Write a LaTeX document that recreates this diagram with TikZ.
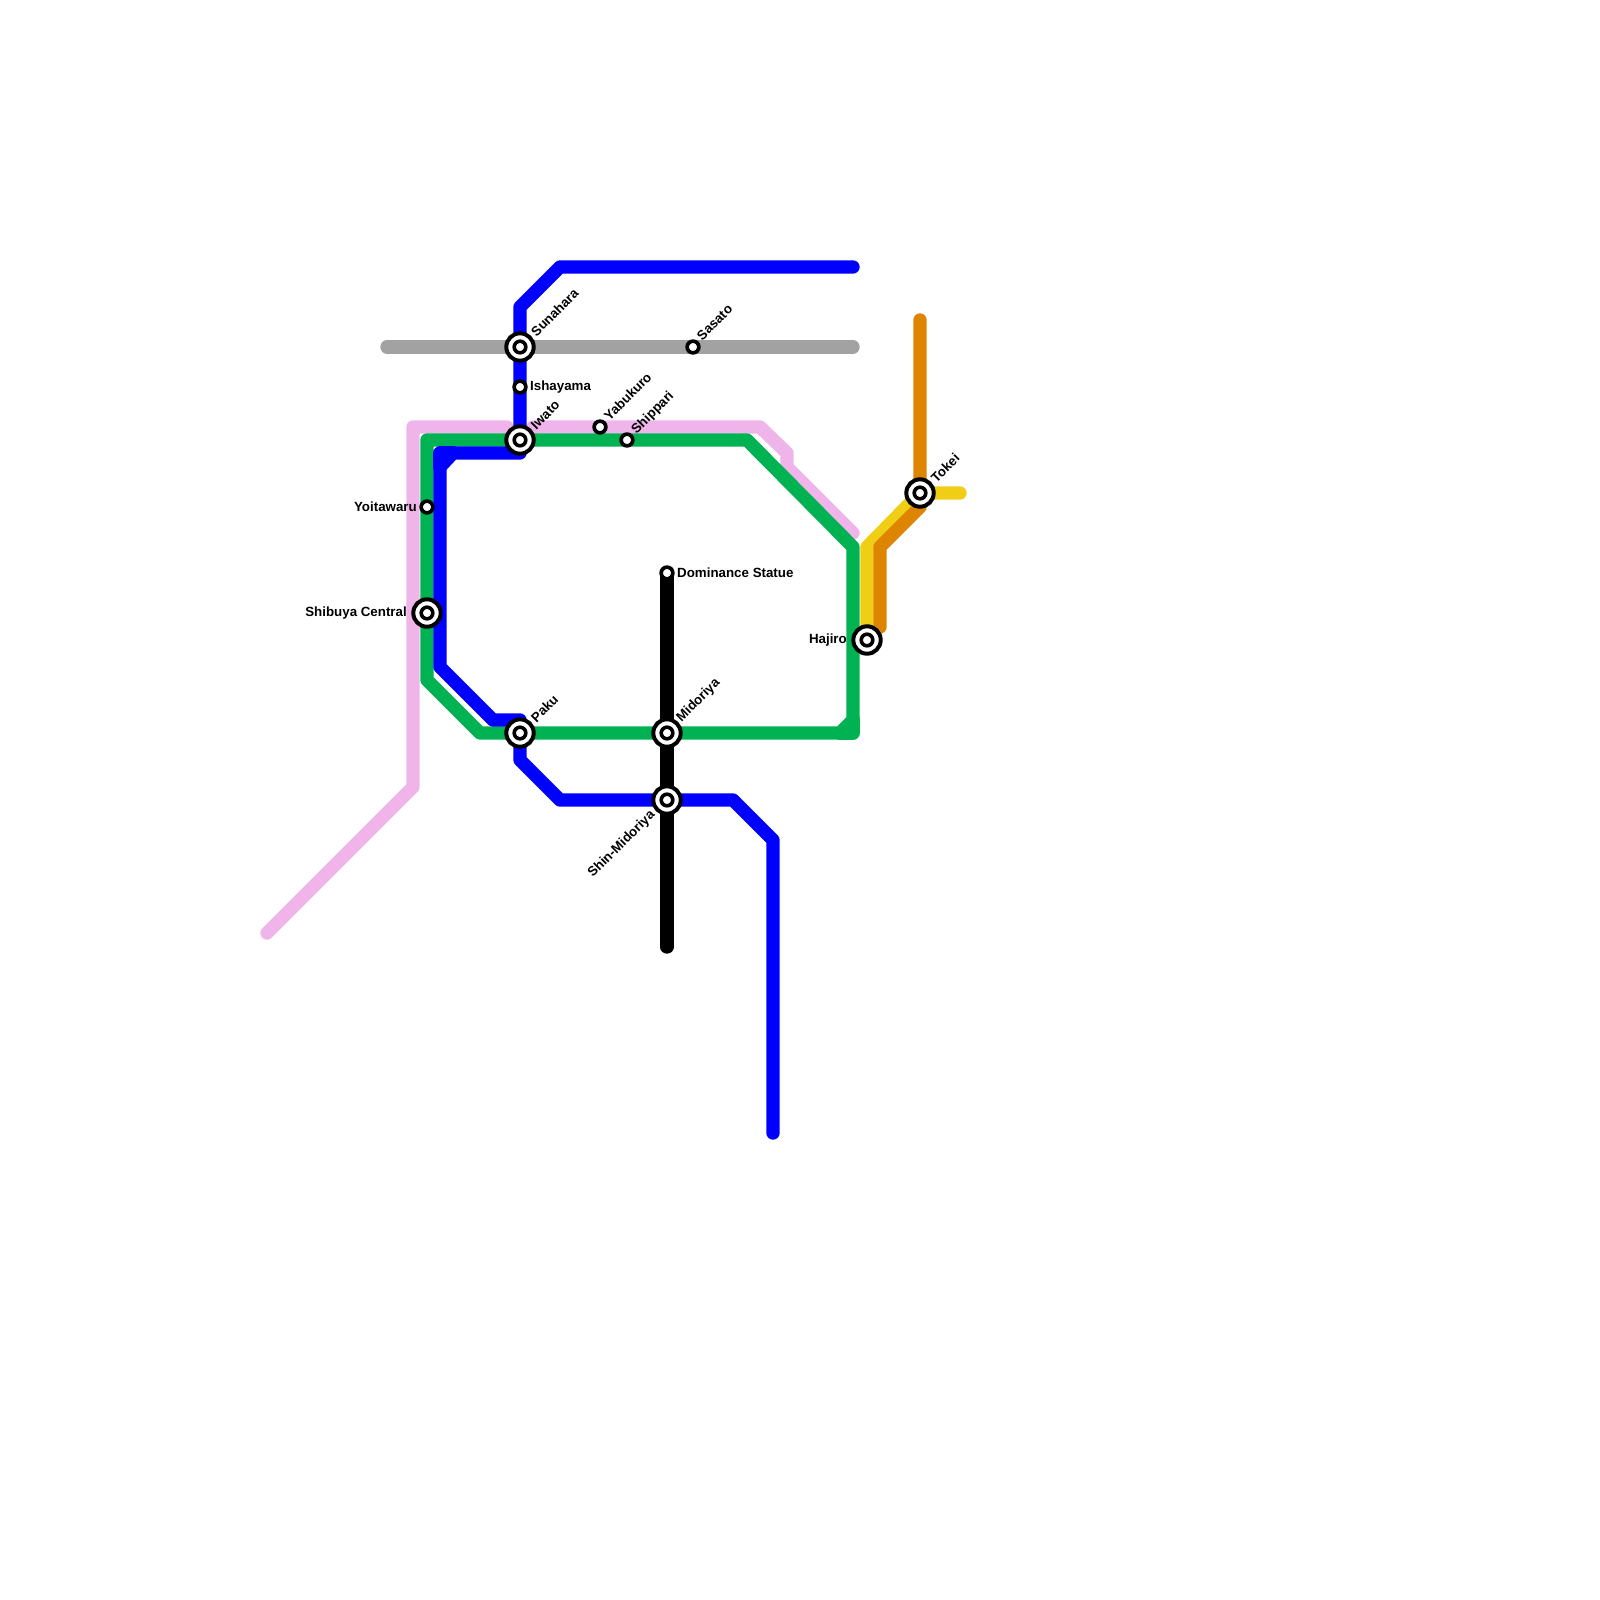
\documentclass[tikz,border=0pt]{standalone}
\usepackage{fontspec}
\setmainfont{Liberation Sans}
\usetikzlibrary{backgrounds}
\definecolor{MetroPink}{HTML}{EFB4EA}
\definecolor{MetroGreen}{HTML}{00B251}
\definecolor{MetroBlue}{HTML}{0000FF}
\definecolor{MetroGray}{HTML}{A2A2A2}
\definecolor{MetroYellow}{HTML}{F0CE15}
\definecolor{MetroOrange}{HTML}{DD8500}
\tikzset{
  metro/.style={line width=13.33pt,line cap=round,line join=round},
  pinkline/.style={metro,draw=MetroPink},
  greenline/.style={metro,draw=MetroGreen},
  blueline/.style={metro,draw=MetroBlue},
  grayline/.style={metro,draw=MetroGray},
  yellowline/.style={metro,draw=MetroYellow},
  orangeline/.style={metro,draw=MetroOrange},
  blackline/.style={metro,draw=black},
  smallstop/.style={
    circle,
    draw=black,
    fill=white,
    line width=3.7pt,
    minimum size=11.7pt,
    inner sep=0pt,
    outer sep=0pt
  },
  bigstop/.style={
    circle,
    draw=black,
    fill=white,
    line width=4pt,
    minimum size=27.4pt,
    inner sep=0pt,
    outer sep=0pt,
    path picture={\draw[black,line width=3.6pt] (path picture bounding box.center) circle (5.8pt);}
  },
  stoplabel/.style={font=\fontsize{13.33}{16}\selectfont\bfseries,inner sep=0pt},
  labelright/.style={stoplabel,anchor=west},
  labelleft/.style={stoplabel,anchor=east},
  labelne/.style={stoplabel,anchor=west,rotate=45},
  labelsw/.style={stoplabel,anchor=east,rotate=45}
}
\begin{document}
\begin{tikzpicture}[x=1pt,y=-1pt]
  \useasboundingbox (0,0) rectangle (1600,1600);

  \node[bigstop] (sunahara) at (520,347) {};
  \node[bigstop] (iwato) at (520,440) {};
  \node[bigstop] (paku) at (520,733) {};
  \node[bigstop] (midoriya) at (667,733) {};
  \node[bigstop] (shinmidoriya) at (667,800) {};
  \node[bigstop] (shibuya) at (427,613) {};
  \node[bigstop] (hajiro) at (867,640) {};
  \node[bigstop] (tokei) at (920,493) {};
  \node[smallstop] (ishayama) at (520,387) {};
  \node[smallstop] (yabukuro) at (600,427) {};
  \node[smallstop] (shippari) at (627,440) {};
  \node[smallstop] (sasato) at (693,347) {};
  \node[smallstop] (yoitawaru) at (427,507) {};
  \node[smallstop] (statue) at (667,573) {};

  \node[labelne] (sunaharatext) at (533,334) {Sunahara};
  \node[labelne] (iwatotext) at (533,427) {Iwato};
  \node[labelne] (pakutext) at (533,720) {Paku};
  \node[labelne] (midoriyatext) at (679,720) {Midoriya};
  \node[labelne] (tokeitext) at (933,480) {Tokei};
  \node[labelne] (yabukurotext) at (606,418) {Yabukuro};
  \node[labelne] (shipparitext) at (634,432) {Shippari};
  \node[labelne] (sasatotext) at (699,338) {Sasato};
  \node[labelsw] (shinmidoriyatext) at (653,813) {Shin-Midoriya};
  \node[labelright] (ishayamatext) at (530,387) {Ishayama};
  \node[labelright] (statuetext) at (677,573) {Dominance Statue};
  \node[labelleft] (yoitawarutext) at (417,507) {Yoitawaru};
  \node[labelleft] (shibuyatext) at (407,613) {Shibuya Central};
  \node[labelleft] (hajirotext) at (847,640) {Hajiro};

  \coordinate (grayw) at (387,347);
  \coordinate (graye) at (853,347);
  \coordinate (pinka) at (267,933);
  \coordinate (pinkb) at (413,787);
  \coordinate (pinkc) at (413,427);
  \coordinate (pinkd) at (507,427);
  \coordinate (pinke) at (533,427);
  \coordinate (pinkf) at (760,427);
  \coordinate (pinkg) at (787,453);
  \coordinate (pinkh) at (787,467);
  \coordinate (pinki) at (853,533);
  \coordinate (greena) at (427,440);
  \coordinate (greenb) at (747,440);
  \coordinate (greenc) at (853,547);
  \coordinate (greend) at (853,720);
  \coordinate (greene) at (853,733);
  \coordinate (greenf) at (840,733);
  \coordinate (greeng) at (480,733);
  \coordinate (greenh) at (427,680);
  \coordinate (bluea) at (853,267);
  \coordinate (blueb) at (560,267);
  \coordinate (bluec) at (520,307);
  \coordinate (blued) at (520,453);
  \coordinate (bluee) at (453,453);
  \coordinate (bluef) at (440,453);
  \coordinate (blueg) at (440,467);
  \coordinate (blueh) at (440,667);
  \coordinate (bluei) at (493,720);
  \coordinate (bluej) at (520,720);
  \coordinate (bluek) at (520,760);
  \coordinate (bluel) at (560,800);
  \coordinate (bluem) at (733,800);
  \coordinate (bluen) at (773,840);
  \coordinate (blueo) at (773,1133);
  \coordinate (yellowa) at (867,547);
  \coordinate (yellowb) at (960,493);
  \coordinate (orangea) at (920,320);
  \coordinate (orangeb) at (920,507);
  \coordinate (orangec) at (880,547);
  \coordinate (oranged) at (880,627);
  \coordinate (blacka) at (667,947);

  \begin{pgfonlayer}{background}
    \draw[grayline] (grayw) -- (sunahara.center) -- (sasato.center) -- (graye);
    \draw[pinkline] (pinka) -- (pinkb) -- (pinkc) -- (pinkd);
    \draw[pinkline] (pinke) -- (pinkf) -- (pinkg) -- (pinkh) -- (pinki);
    \draw[greenline] (greena) -- (iwato.center) -- (greenb) -- (greenc) -- (greend) -- (greenf) -- (midoriya.center) -- (paku.center) -- (greeng) -- (greenh) -- (shibuya.center) -- (greena);
    \draw[greenline] (greenf) -- (greene) -- (greend);
    \draw[yellowline] (hajiro.center) -- (yellowa) -- (tokei.center) -- (yellowb);
    \draw[orangeline] (orangea) -- (orangeb) -- (orangec) -- (oranged);
    \draw[blueline] (bluea) -- (blueb) -- (bluec) -- (sunahara.center) -- (blued) -- (bluee) -- (blueg) -- (blueh) -- (bluei) -- (bluej) -- (bluek) -- (bluel) -- (shinmidoriya.center) -- (bluem) -- (bluen) -- (blueo);
    \draw[blueline] (bluee) -- (bluef) -- (blueg);
    \draw[blackline] (statue.center) -- (midoriya.center) -- (shinmidoriya.center) -- (blacka);
  \end{pgfonlayer}
\end{tikzpicture}
\end{document}
